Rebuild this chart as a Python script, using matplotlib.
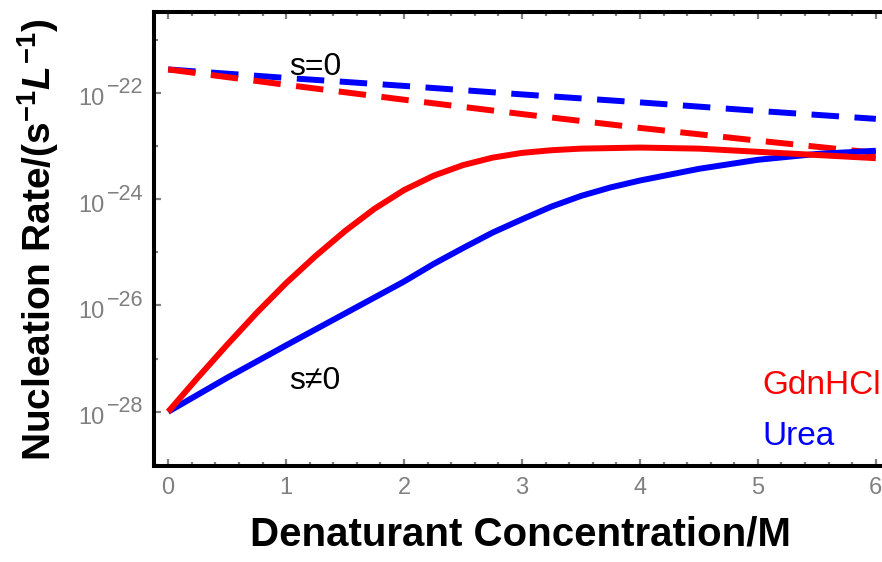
import numpy as np
import matplotlib
matplotlib.use("Agg")
import matplotlib.pyplot as plt
import matplotlib.transforms as mtransforms
from matplotlib.ticker import FixedLocator, NullFormatter, MultipleLocator

plt.rcParams['font.family'] = ['Liberation Sans', 'DejaVu Sans']
plt.rcParams['mathtext.fontset'] = 'custom'
plt.rcParams['mathtext.rm'] = 'Liberation Sans'
plt.rcParams['mathtext.it'] = 'Liberation Sans:italic:bold'
plt.rcParams['mathtext.bf'] = 'Liberation Sans:bold'

# ---- data (log10 of rate) ----
x_dash = [0, 1, 2, 3, 4, 5, 6]
gdn_s0 = [-21.56, -21.85, -22.13, -22.40, -22.66, -22.90, -23.13]
urea_s0 = [-21.56, -21.72, -21.87, -22.03, -22.18, -22.34, -22.49]

x_gdn = [0, 0.25, 0.5, 0.75, 1.0, 1.25, 1.5, 1.75, 2.0, 2.25, 2.5, 2.75,
         3.0, 3.25, 3.5, 3.75, 4.0, 4.5, 5.0, 5.5, 6.0]
gdn_s = [-28.0, -27.36, -26.74, -26.14, -25.58, -25.07, -24.60, -24.18,
         -23.83, -23.56, -23.36, -23.22, -23.13, -23.08, -23.05, -23.04,
         -23.03, -23.05, -23.11, -23.17, -23.23]

x_urea = [0, 0.5, 1.0, 1.5, 2.0, 2.25, 2.5, 2.75, 3.0, 3.25, 3.5, 3.75,
          4.0, 4.5, 5.0, 5.5, 6.0]
urea_s = [-28.0, -27.36, -26.75, -26.15, -25.55, -25.22, -24.92, -24.63,
          -24.38, -24.14, -23.94, -23.78, -23.65, -23.43, -23.26, -23.15, -23.09]

ytick_exp = [-28, -26, -24, -22]
ytick_minor_exp = [-29, -27, -25, -23, -21]

fig = plt.figure(figsize=(8.82, 5.62), dpi=100)
ax = fig.add_axes([154/882, 96/562, 736/882, 454/562])

lw = 4.3
dash = (4.6, 2.6)
ax.plot(x_dash, 10.0**np.array(urea_s0), color='#0000ff', lw=lw,
        dashes=dash, dash_capstyle='butt')
ax.plot(x_dash, 10.0**np.array(gdn_s0), color='#ff0000', lw=lw,
        dashes=dash, dash_capstyle='butt')
ax.plot(x_urea, 10.0**np.array(urea_s), color='#0000ff', lw=lw,
        solid_capstyle='butt', solid_joinstyle='round')
ax.plot(x_gdn, 10.0**np.array(gdn_s), color='#ff0000', lw=lw,
        solid_capstyle='butt', solid_joinstyle='round')

ax.set_yscale('log')
ax.set_xlim(-0.12, 6.12)
ax.set_ylim(10**-29.02, 10**-20.48)

ax.xaxis.set_major_locator(MultipleLocator(1))
ax.xaxis.set_minor_locator(MultipleLocator(0.2))
ax.yaxis.set_major_locator(FixedLocator([10.0**e for e in ytick_exp]))
ax.yaxis.set_minor_locator(FixedLocator([10.0**e for e in ytick_minor_exp]))
ax.yaxis.set_minor_formatter(NullFormatter())

for s in ax.spines.values():
    s.set_linewidth(2.9)
    s.set_color('black')

gray = '#808080'
ax.tick_params(which='both', direction='in', color=gray, top=True,
               right=True, labelcolor=gray, labelsize=17)
ax.tick_params(which='major', length=5, width=1.6)
ax.tick_params(which='minor', length=3, width=1.6)
ax.tick_params(axis='x', pad=8)
ax.tick_params(axis='y', labelleft=False)

# y tick labels drawn as "10" plus a large exponent
trans = mtransforms.blended_transform_factory(fig.transFigure, ax.transData)
base_tr = mtransforms.offset_copy(trans, fig=fig, x=0, y=-12.5, units='dots')
exp_tr = mtransforms.offset_copy(trans, fig=fig, x=0, y=-0.5, units='dots')
for e in ytick_exp:
    ax.text(105/882, 10.0**e, '10', transform=base_tr, fontsize=17,
            color=gray, ha='right', va='baseline')
    ax.text(107/882, 10.0**e, '\u2212%d' % abs(e), transform=exp_tr,
            fontsize=15.5, color=gray, ha='left', va='baseline')

ax.text(1.246, 10**-21.66, 's=0', fontsize=23, ha='center', va='baseline')
ax.text(1.246, 10**-27.57, 's\u22600', fontsize=23, ha='center', va='baseline')
ax.text(5.034, 10**-27.66, 'GdnHCl', fontsize=24, color='#ff0000',
        ha='left', va='baseline')
ax.text(5.034, 10**-28.63, 'Urea', fontsize=24, color='#0000ff',
        ha='left', va='baseline')

fig.text(521/882, 1 - 545/562, 'Denaturant Concentration/M', fontsize=29,
         fontweight='bold', ha='center', va='baseline')
fig.text(38/882, 1 - 240/562,
         r'Nucleation Rate/(s$^{\mathbf{-1}}$$\mathit{L}^{\mathbf{-1}}$)',
         fontsize=28, fontweight='bold', rotation=90, ha='center', va='center')

fig.savefig('out.png', dpi=100)
